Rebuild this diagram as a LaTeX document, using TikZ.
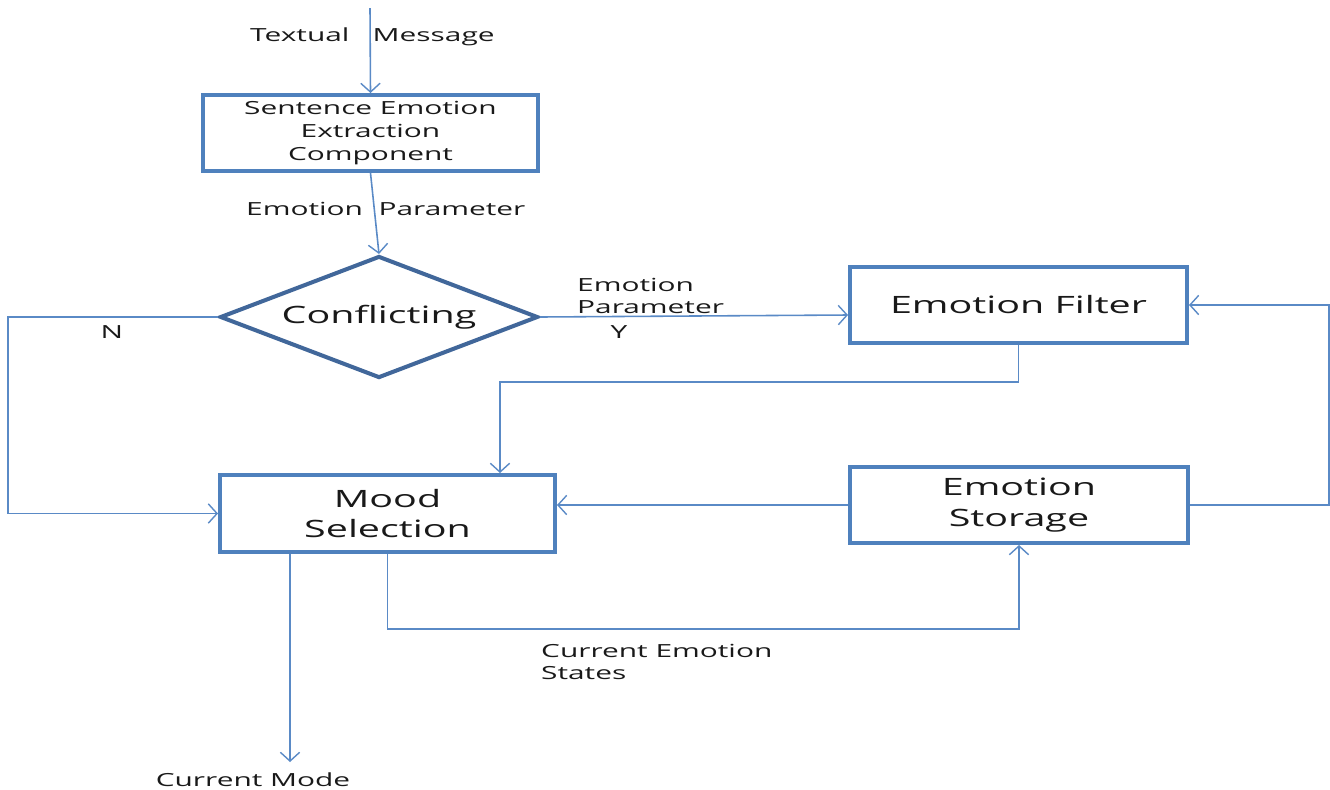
\documentclass[tikz,border=0pt]{standalone}
\usepackage{fontspec}
\setmainfont[FakeStretch=1.65]{Open Sans}
\usetikzlibrary{shapes.geometric,arrows.meta}
\definecolor{boxblue}{HTML}{4F81BD}
\definecolor{diablue}{HTML}{41679A}
\definecolor{lineblue}{HTML}{5A8AC6}
\begin{document}
\begin{tikzpicture}[x=0.02cm,y=-0.02cm]
                \tikzset{every node/.style={font=\fontsize{10.3}{13}\selectfont, text=black!90},
                         bigtext/.style={font=\fontsize{13.6}{17.6}\selectfont},
                         box/.style={draw=boxblue, line width=2.3pt, fill=white, align=center, inner sep=0pt},
                         flow/.style={draw=lineblue, line width=0.9pt, -{Straight Barb[length=5pt,width=11pt,line width=0.8pt]}}}
                \useasboundingbox (0,0) rectangle (1330,789);
                % boxes
                \node[box, minimum width=6.7cm, minimum height=1.52cm] (seec) at (370.5,133) {Sentence Emotion\\Extraction\\Component};
                \node[draw=diablue, line width=2.3pt, diamond, shape aspect=2.6, inner sep=0pt, minimum width=6.36cm, minimum height=2.44cm, bigtext] (conf) at (379,317) {Conflicting};
                \node[box, bigtext, minimum width=6.74cm, minimum height=1.52cm] (filter) at (1018.5,305) {Emotion~Filter};
                \node[box, bigtext, minimum width=6.7cm, minimum height=1.54cm] (mood) at (387.5,513.5) {Mood\\Selection};
                \node[box, bigtext, minimum width=6.76cm, minimum height=1.52cm] (store) at (1019,505) {Emotion\\Storage};
                % labels
                \node[anchor=west] (msg) at (244,37) {Textual~~~Message};
                \node[anchor=west] (par1) at (240,209) {Emotion~~Parameter};
                \node[anchor=west, align=left] (par2) at (571,296) {Emotion\\Parameter};
                \node (yes) at (619,332) {Y};
                \node (no) at (112,332) {N};
                \node[anchor=west, align=left] (states) at (535,662) {Current Emotion\\States};
                \node (cmode) at (253,780) {Current Mode};
                \coordinate (in) at (370,8);
                \coordinate (out) at (290,762);
                % connectors
                \draw[flow] (in) -- (seec.north);
                \draw[flow] (seec.south) -- (conf.north);
                \draw[flow] (conf.east) -- ([yshift=-0.2cm]filter.west);
                \draw[flow] (conf.west) -- ++(-210,0) |- (mood.west);
                \draw[flow] (filter.south) -- ++(0,37) -| ([xshift=2.25cm]mood.north);
                \draw[flow] (store.west) -- (store.west -| mood.east);
                \draw[flow] (store.east) -- ++(139,0) |- (filter.east);
                \draw[flow] (mood.south) -- ++(0,75) -| (store.south);
                \draw[flow] (mood.south -| out) -- (out);
            \end{tikzpicture}
\end{document}
